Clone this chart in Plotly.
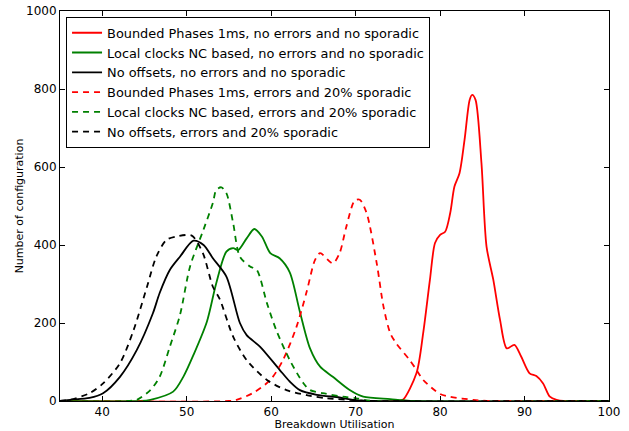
import plotly.graph_objects as go

# ---- data ----
bp_x = [35, 75.0, 75.6, 77.2, 78.0, 78.8, 79.4, 80.0, 80.6, 81.2, 81.7, 82.3, 82.9, 83.5, 83.8, 84.2, 84.9, 85.5, 86.3, 87.1, 87.9, 88.8, 89.6, 90.6, 91.4, 92.2, 93.0, 93.8, 94.6, 100]
bp_y = [0, 0, 3, 71, 174, 311, 405, 426, 434, 482, 550, 584, 670, 772, 785, 772, 610, 396, 311, 208, 135, 144, 114, 71, 64, 45, 11, 3, 0, 0]

lc_x = [35, 44.5, 45.7, 48.4, 49.6, 50.8, 52.4, 53.5, 54.7, 55.5, 56.1, 57.1, 58.0, 58.9, 59.9, 61.0, 62.2, 63.4, 64.6, 65.8, 67.3, 69.3, 70.9, 74.1, 75.6, 77.0, 100]
lc_y = [0, 0, 3, 24, 62, 118, 204, 302, 383, 392, 387, 417, 441, 422, 379, 366, 330, 229, 135, 88, 62, 28, 11, 5, 2, 0, 0]

no_x = [35, 36.2, 38.5, 40.1, 42.1, 44.1, 46.0, 46.8, 48.0, 49.2, 50.8, 52.0, 53.1, 54.7, 56.3, 57.1, 58.7, 61.0, 62.2, 63.4, 65.4, 68.1, 69.7, 72.0, 100]
no_y = [0, 3, 8, 20, 62, 131, 225, 277, 336, 370, 411, 400, 366, 319, 200, 169, 139, 80, 50, 28, 16, 9, 3, 0, 0]

bpe_x = [35, 55.0, 55.9, 57.8, 59.9, 61.4, 63.0, 64.2, 65.2, 65.8, 67.3, 68.1, 68.9, 69.9, 70.5, 71.3, 72.5, 73.3, 74.1, 74.8, 76.4, 77.2, 78.0, 80.0, 81.2, 83.9, 86.0, 100]
bpe_y = [0, 0, 3, 20, 54, 105, 190, 280, 362, 379, 353, 379, 447, 514, 516, 482, 353, 242, 174, 148, 105, 80, 54, 18, 11, 3, 0, 0]

lce_x = [35, 43.0, 44.1, 45.7, 46.8, 48.0, 49.2, 50.4, 52.0, 53.1, 53.5, 54.1, 54.7, 55.5, 56.3, 57.5, 58.3, 59.5, 60.6, 62.2, 63.8, 64.6, 66.1, 68.5, 70.1, 72.0, 100]
lce_y = [0, 0, 3, 28, 62, 139, 220, 345, 440, 508, 541, 548, 533, 456, 370, 345, 336, 251, 182, 105, 46, 28, 20, 11, 7, 0, 0]

noe_x = [35, 36.2, 38.5, 40.1, 42.1, 43.7, 45.3, 46.4, 47.6, 48.8, 50.6, 51.9, 53.1, 53.9, 55.5, 57.1, 59.5, 61.8, 64.2, 66.6, 70.0, 72.0, 100]
noe_y = [0, 3, 20, 45, 97, 181, 293, 370, 413, 422, 424, 380, 293, 262, 165, 105, 54, 28, 15, 7, 2, 0, 0]

names = [
    "Bounded Phases 1ms, no errors and no sporadic",
    "Local clocks NC based, no errors and no sporadic",
    "No offsets, no errors and no sporadic",
    "Bounded Phases 1ms, errors and 20% sporadic",
    "Local clocks NC based, errors and 20% sporadic",
    "No offsets, errors and 20% sporadic",
]
series = [(bp_x, bp_y), (lc_x, lc_y), (no_x, no_y), (bpe_x, bpe_y), (lce_x, lce_y), (noe_x, noe_y)]
colors = ["#ff0000", "#008000", "#000000", "#ff0000", "#008000", "#000000"]
dashes = ["solid", "solid", "solid", "6px,5px", "6px,5px", "6px,5px"]

x_ticks = [40, 50, 60, 70, 80, 90, 100]
y_ticks = [0, 200, 400, 600, 800, 1000]

fig = go.Figure()
for (xs, ys), nm, c, d in zip(series, names, colors, dashes):
    fig.add_trace(go.Scatter(x=xs, y=ys, mode="lines", name=nm,
                             line=dict(color=c, width=1.8, dash=d, shape="spline", smoothing=0.8)))

axis_common = dict(showgrid=False, zeroline=False, showline=True, linecolor="black", linewidth=1,
                   mirror="ticks", ticks="inside", ticklen=5, tickcolor="black", automargin=False,
                   tickfont=dict(family="DejaVu Sans", size=12, color="black"))

fig.update_layout(
    width=629, height=431,
    margin=dict(l=60, r=20, t=11, b=30),
    paper_bgcolor="white", plot_bgcolor="white",
    font=dict(family="DejaVu Sans", color="black"),
    showlegend=True,
    legend=dict(x=0.011, y=0.985, xanchor="left", yanchor="top",
                bgcolor="white", bordercolor="black", borderwidth=1,
                font=dict(family="DejaVu Sans", size=12.9, color="black"),
                tracegroupgap=0, itemwidth=30),
    xaxis=dict(range=[35, 100], tickvals=x_ticks, ticktext=[str(v) for v in x_ticks],
               title=dict(text="Breakdown Utilisation", font=dict(size=11), standoff=2),
               **axis_common),
    yaxis=dict(range=[0, 1000], tickvals=y_ticks, ticktext=[str(v) for v in y_ticks],
               title=dict(text="Number of configuration", font=dict(size=11), standoff=0),
               **axis_common),
)

fig.write_html("out.html")
